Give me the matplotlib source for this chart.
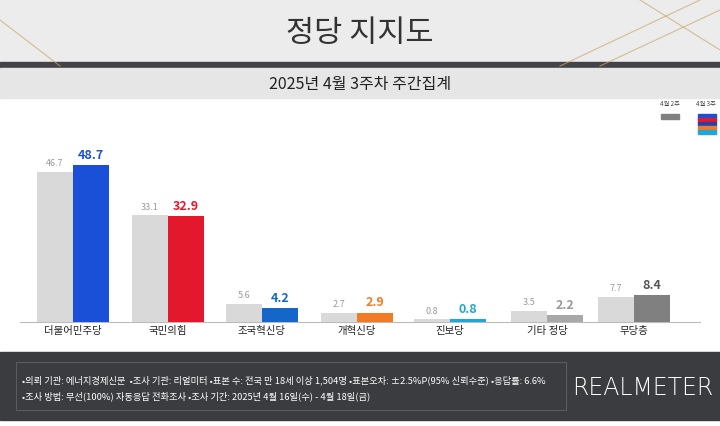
import matplotlib
matplotlib.use("Agg")
import matplotlib.pyplot as plt
from matplotlib.patches import Rectangle

plt.rcParams["font.family"] = ["Noto Sans CJK JP", "Noto Sans CJK KR", "DejaVu Sans"]

categories = ["더불어민주당", "국민의힘", "조국혁신당", "개혁신당", "진보당", "기타 정당", "무당층"]
prev_week = [46.7, 33.1, 5.6, 2.7, 0.8, 3.5, 7.7]
this_week = [48.7, 32.9, 4.2, 2.9, 0.8, 2.2, 8.4]
colors = ["#1a50d8", "#e3182d", "#1466c8", "#f07b24", "#1ea8d8", "#a8a8a8", "#808080"]
label_colors = ["#1a50d8", "#e3182d", "#1466c8", "#f07b24", "#1ea8d8", "#999999", "#555555"]
legend_labels = ["4월 2주", "4월 3주"]
title = "정당 지지도"
subtitle = "2025년 4월 3주차 주간집계"
notes = ["•의뢰 기관: 에너지경제신문  •조사 기관: 리얼미터 •표본 수: 전국 만 18세 이상 1,504명 •표본오차: ±2.5%P(95% 신뢰수준) •응답률: 6.6%",
         "•조사 방법: 무선(100%) 자동응답 전화조사 •조사 기간: 2025년 4월 16일(수) - 4월 18일(금)"]

W, H = 720, 426
fig = plt.figure(figsize=(W/100, H/100), dpi=100)
bg = fig.add_axes([0, 0, 1, 1]); bg.set_xlim(0, W); bg.set_ylim(H, 0); bg.axis("off")
bg.add_patch(Rectangle((0, 0), W, 66, color="#ececec"))
for (x0, y0, x1, y1) in [(560, 66, 700, 0), (600, 66, 720, 10), (0, 20, 60, 66), (640, 0, 720, 50)]:
    bg.plot([x0, x1], [y0, y1], color="#c8a96a", lw=0.8, alpha=0.7)
bg.add_patch(Rectangle((0, 62), W, 6, color="#444448"))
bg.add_patch(Rectangle((0, 68), W, 30, color="#e6e6e6"))
bg.text(W/2, 34, title, ha="center", va="center", fontsize=22, color="#333333")
bg.text(W/2, 84, subtitle, ha="center", va="center", fontsize=11.5, color="#222222")
bg.add_patch(Rectangle((0, 352), W, 68, color="#3b3c40"))
bg.add_patch(Rectangle((16, 362), 550, 48, fill=False, ec="#5a5b60", lw=0.8))
bg.text(22, 380, notes[0], fontsize=6.7, color="white", va="center")
bg.text(22, 396, notes[1], fontsize=6.7, color="white", va="center")
bg.text(643, 388, "REALMETER", fontsize=17, color="white", ha="center", va="center", fontfamily="DejaVu Sans", fontweight="light")
# legend
bg.text(670, 106, legend_labels[0], fontsize=4.5, ha="center", color="#444")
bg.text(706, 106, legend_labels[1], fontsize=4.5, ha="center", color="#444")
bg.add_patch(Rectangle((661, 114), 18, 5, color="#808080"))
for i, c in enumerate(["#1a50d8", "#e3182d", "#2840a8", "#f07b24", "#1ea8d8"]):
    bg.add_patch(Rectangle((698, 114 + i*4), 18, 4, color=c))

# chart axes: pixels x 0..720, y 98..322
ax = fig.add_axes([0, (H-322)/H, 1, (322-98)/H])
scale = 3.22
ax.set_xlim(0, W); ax.set_ylim(0, (322-98)/scale); ax.axis("off")
centers = [73, 168, 262, 357, 450, 547, 634]
bw = 36
ax.bar([c - bw/2 for c in centers], prev_week, width=bw, color="#d9d9d9")
ax.bar([c + bw/2 for c in centers], this_week, width=bw, color=colors)
for c, p, t, lc in zip(centers, prev_week, this_week, label_colors):
    ax.text(c - bw/2, p + 1.2, f"{p}", ha="center", va="bottom", fontsize=6.5, color="#999999")
    ax.text(c + bw/2, t + 1.0, f"{t}", ha="center", va="bottom", fontsize=9, fontweight="bold", color=lc)
bg.plot([20, 700], [322, 322], color="#bbbbbb", lw=0.8)
for c, name in zip(centers, categories):
    bg.text(c, 331, name, ha="center", va="center", fontsize=7.5, color="#222222")
fig.savefig("out.png", dpi=100)
